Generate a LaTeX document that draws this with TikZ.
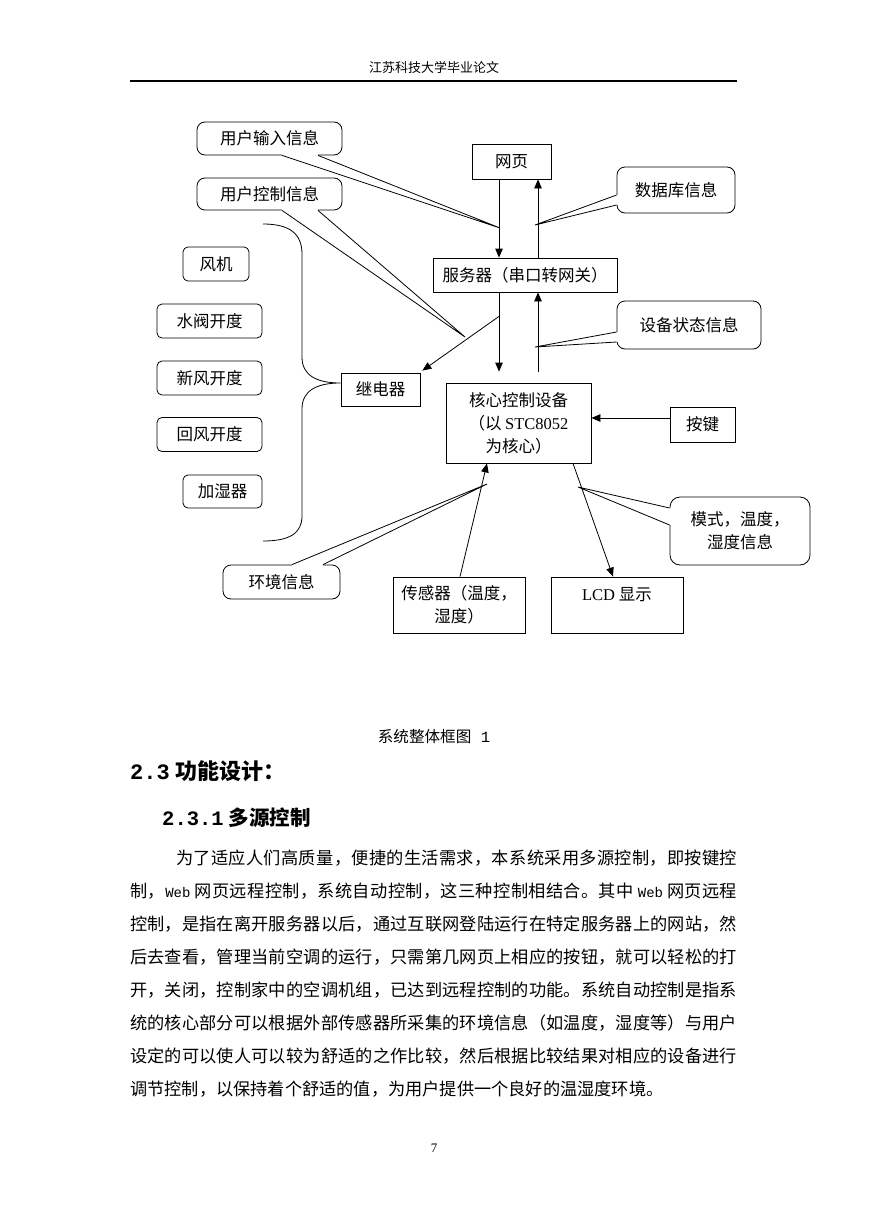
\documentclass[tikz,border=0pt]{standalone}
\usepackage{fontspec}
\setmainfont{Liberation Serif}
\newfontfamily\cjk{Noto Sans CJK SC}
\newfontfamily\monoF{Liberation Mono}
\usetikzlibrary{positioning}
\usetikzlibrary{calc}
\usetikzlibrary{arrows.meta}

\newcommand\dgfont{\cjk\fontsize{16.5}{23}\selectfont}
\newcommand\bodyfont{\cjk\fontsize{17.2}{33}\selectfont}
\newcommand\Web{{\monoF\fontsize{14}{33}\selectfont Web}}
\makeatletter
\newcommand\jline[2]{\hbox to #1{\jl@#2\relax\unskip}}
\def\jl@#1{\ifx\relax#1\else{#1}\hfill\expandafter\jl@\fi}
\makeatother
\newcommand\calloutptr[3]{%
  \draw[white, line width=2.4pt] #1 -- #2;
  \draw[thinline] #1 -- #3 -- #2;}

\begin{document}
\begin{tikzpicture}[x=1pt, y=-1pt,
    thinline/.style={line width=0.8pt},
    box/.style={draw, thinline, inner sep=0pt, font=\dgfont},
    rbox/.style={box, rounded corners=5pt},
    bubble/.style={box, rounded corners=8pt},
    arr/.style={thinline, -{Triangle[length=9pt,width=7.5pt]}}]
    \fill[white] (0,0) rectangle (869,1228);
    \useasboundingbox (0,0) rectangle (869,1228);

    % page header
    \node (header) at (434,68) {\cjk\fontsize{13}{15}\selectfont 江苏科技大学毕业论文};
    \draw[line width=1.3pt] (130,81) -- (737,81);

    % main blocks
    \node (web) [box, minimum width=79, minimum height=35] at (511.5,161.5) {网页};
    \node (server) [box, minimum width=184, minimum height=34] at (525,275) {服务器（串口转网关）};
    \node (relay) [box, minimum width=79, minimum height=33] at (380.5,389.5) {继电器};
    \node (core) [box, minimum width=145, minimum height=80, align=center] at (518.5,423)
        {核心控制设备\\（以 {\rmfamily STC8052}\\为核心）};
    \node (key) [box, minimum width=65, minimum height=35] at (702.5,424.5) {按键};
    \node (sensor) [box, minimum width=132, minimum height=56, align=center] at (459,605)
        {传感器（温度，\\湿度）};
    \node (lcd) [box, minimum width=132, minimum height=56, align=center] at (617,605)
        {{\rmfamily LCD} 显示\\\mbox{}};

    % devices behind the relay
    \node (fan) [rbox, minimum width=66, minimum height=34] at (216,264) {风机};
    \node (valve) [rbox, minimum width=105, minimum height=34] at (209.5,321) {水阀开度};
    \node (fresh) [rbox, minimum width=105, minimum height=34] at (209.5,378) {新风开度};
    \node (back) [rbox, minimum width=105, minimum height=34] at (209.5,434.5) {回风开度};
    \node (humid) [rbox, minimum width=79, minimum height=33] at (222.5,491.5) {加湿器};

    % callouts
    \node (inbubble) [bubble, minimum width=145, minimum height=33] at (269.5,138.5) {用户输入信息};
    \node (ctrlbubble) [bubble, minimum width=145, minimum height=32] at (269.5,194) {用户控制信息};
    \node (dbbubble) [bubble, minimum width=118, minimum height=46] at (676,190) {数据库信息};
    \node (statebubble) [bubble, minimum width=144, minimum height=48] at (689,325) {设备状态信息};
    \node (envbubble) [bubble, minimum width=117, minimum height=34] at (281.5,582) {环境信息};
    \node (modebubble) [bubble, rounded corners=10pt, minimum width=140, minimum height=68, align=center]
        at (740,531) {模式，温度，\\湿度信息};

    \coordinate (intip) at (500,228);
    \coordinate (ctrltip) at (465,337);
    \coordinate (dbtip) at (535,225);
    \coordinate (statetip) at (535,347);
    \coordinate (envtip) at (487,484);
    \coordinate (modetip) at (578,487);

    % arrows
    \coordinate (dnA) at ([xshift=-12.5]web.south);
    \coordinate (upA) at ([xshift=26.5]web.south);
    \draw[arr] (dnA) -- (dnA |- server.north);
    \draw[arr] (upA |- server.north) -- (upA);
    \draw[arr] (dnA |- server.south) -- ($(dnA |- core.north)+(0,-11)$);
    \draw[arr] ($(upA |- core.north)+(0,-11)$) -- (upA |- server.south);
    \coordinate (split) at ($(dnA |- server.south)+(0,24)$);
    \draw[arr] (split) -- ([xshift=2,yshift=2]relay.north east);
    \draw[arr] ([yshift=6.5]key.west) -- ([yshift=6.5]key.west -| core.east);
    \draw[arr] ([xshift=1]sensor.north) -- ([xshift=-31.5]core.south);
    \draw[arr] ([xshift=54.5]core.south) -- ([xshift=-4]lcd.north);

    % brace from the relay
    \coordinate (bracetop) at (263,224);
    \coordinate (bracebot) at (263,541);
    \draw[thinline] (bracetop) .. controls (290,224) and (302,234) .. (302,254)
        -- (302,357) .. controls (302,375) and (316,383) .. ([yshift=6.5]relay.west)
        .. controls (316,383) and (302,391) .. (302,409)
        -- (302,516) .. controls (302,533) and (290,541) .. (bracebot);

    % callout pointers
    \calloutptr{([xshift=12.5]inbubble.south)}{([xshift=48.5]inbubble.south)}{(intip)}
    \calloutptr{([xshift=12.5]ctrlbubble.south)}{([xshift=48.5]ctrlbubble.south)}{(ctrltip)}
    \calloutptr{([yshift=-5]dbbubble.west)}{([yshift=-15]dbbubble.west)}{(dbtip)}
    \calloutptr{([yshift=-7]statebubble.west)}{([yshift=-17]statebubble.west)}{(statetip)}
    \calloutptr{([xshift=10.5]envbubble.north)}{([xshift=41.5]envbubble.north)}{(envtip)}
    \calloutptr{([yshift=23]modebubble.west)}{([yshift=6]modebubble.west)}{(modetip)}

    % caption and text
    \node (caption) at (434,737) {\cjk\fontsize{15.6}{18}\selectfont 系统整体框图{\monoF\ 1}};
    \node (sec) [anchor=west, inner sep=0pt] at (130,771)
        {\fontsize{22}{26}\selectfont{\monoF\bfseries 2.3} {\cjk\bfseries 功能设计：}};
    \node (subsec) [anchor=west, inner sep=0pt] at (162,818)
        {\fontsize{20.5}{24}\selectfont{\monoF\bfseries 2.3.1} {\cjk\bfseries 多源控制}};

    \node (l1) [anchor=west, inner sep=0pt] at (176,858) {\bodyfont\jline{561pt}{为了适应人们高质量，便捷的生活需求，本系统采用多源控制，即按键控}};
    \node (l2) [anchor=west, inner sep=0pt] at (130,891) {\bodyfont\jline{607pt}{制，{\Web\ }网页远程控制，系统自动控制，这三种控制相结合。其中{\ \Web\ }网页远程}};
    \node (l3) [anchor=west, inner sep=0pt] at (130,924) {\bodyfont\jline{607pt}{控制，是指在离开服务器以后，通过互联网登陆运行在特定服务器上的网站，然}};
    \node (l4) [anchor=west, inner sep=0pt] at (130,957) {\bodyfont\jline{607pt}{后去查看，管理当前空调的运行，只需第几网页上相应的按钮，就可以轻松的打}};
    \node (l5) [anchor=west, inner sep=0pt] at (130,990) {\bodyfont\jline{607pt}{开，关闭，控制家中的空调机组，已达到远程控制的功能。系统自动控制是指系}};
    \node (l6) [anchor=west, inner sep=0pt] at (130,1023) {\bodyfont\jline{607pt}{统的核心部分可以根据外部传感器所采集的环境信息（如温度，湿度等）与用户}};
    \node (l7) [anchor=west, inner sep=0pt] at (130,1056) {\bodyfont\jline{607pt}{设定的可以使人可以较为舒适的之作比较，然后根据比较结果对相应的设备进行}};
    \node (l8) [anchor=west, inner sep=0pt] at (130,1089) {\bodyfont 调节控制，以保持着个舒适的值，为用户提供一个良好的温湿度环境。};

    \node (pagenum) at (434,1148) {\fontsize{13}{15}\selectfont 7};
\end{tikzpicture}
\end{document}
